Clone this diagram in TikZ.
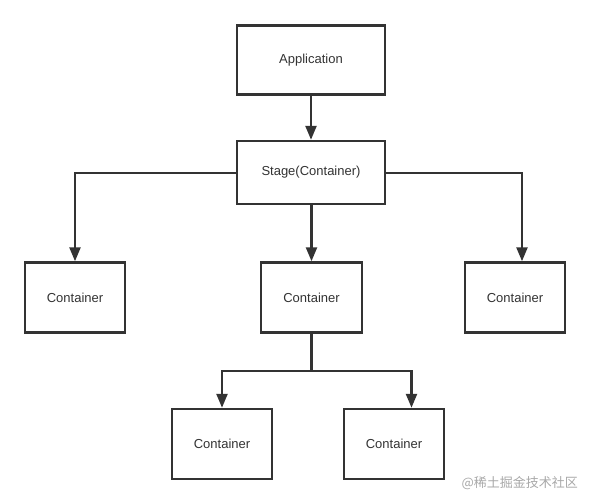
\documentclass[tikz,border=0pt]{standalone}
\usepackage{fontspec}
\setmainfont{Liberation Sans}
\newfontfamily\cjk{Noto Sans CJK SC}
\usetikzlibrary{arrows.meta}
\definecolor{ink}{HTML}{333333}
\definecolor{wm}{HTML}{A8A8A8}
\begin{document}
\begin{tikzpicture}[x=1pt,y=-1pt,
  box/.style={draw=ink, line width=2.5pt, fill=white, text=ink, font=\fontsize{13}{15}\selectfont, inner sep=0pt},
  conn/.style={draw=ink, line width=2.5pt, -{Triangle[length=14pt,width=11pt]}},
  plain/.style={draw=ink, line width=2.5pt}]
\useasboundingbox (0,0) rectangle (590,504);
\node[box, minimum width=148pt, minimum height=69pt] (app) at (311,60) {Application};
\node[box, minimum width=148pt, minimum height=63pt] (stage) at (311,172.5) {Stage(Container)};
\node[box, minimum width=100pt, minimum height=70pt] (cl) at (75,297.5) {Container};
\node[box, minimum width=101pt, minimum height=70pt] (cm) at (311.5,297.5) {Container};
\node[box, minimum width=100pt, minimum height=70pt] (cr) at (515,297.5) {Container};
\node[box, minimum width=100pt, minimum height=70pt] (bl) at (222,444) {Container};
\node[box, minimum width=100pt, minimum height=70pt] (br) at (394,444) {Container};
\coordinate (jn) at (311.5,371);
\draw[conn] (app.south) -- (stage.north);
\draw[conn] (stage.west |- 0,173) -| (cl.north);
\draw[conn] (stage.east |- 0,173) -| (cr.north -| 522,0);
\draw[conn] (stage.south -| cm.north) -- (cm.north);
\draw[plain] (cm.south) -- (jn);
\draw[conn] (jn) -| (bl.north);
\draw[conn] (jn) -| (br.north -| 411.5,0);
\node[text=wm, font=\cjk\fontsize{13}{15}\selectfont, anchor=east, inner sep=0pt] (wmk) at (578,483) {@稀土掘金技术社区};
\end{tikzpicture}
\end{document}
